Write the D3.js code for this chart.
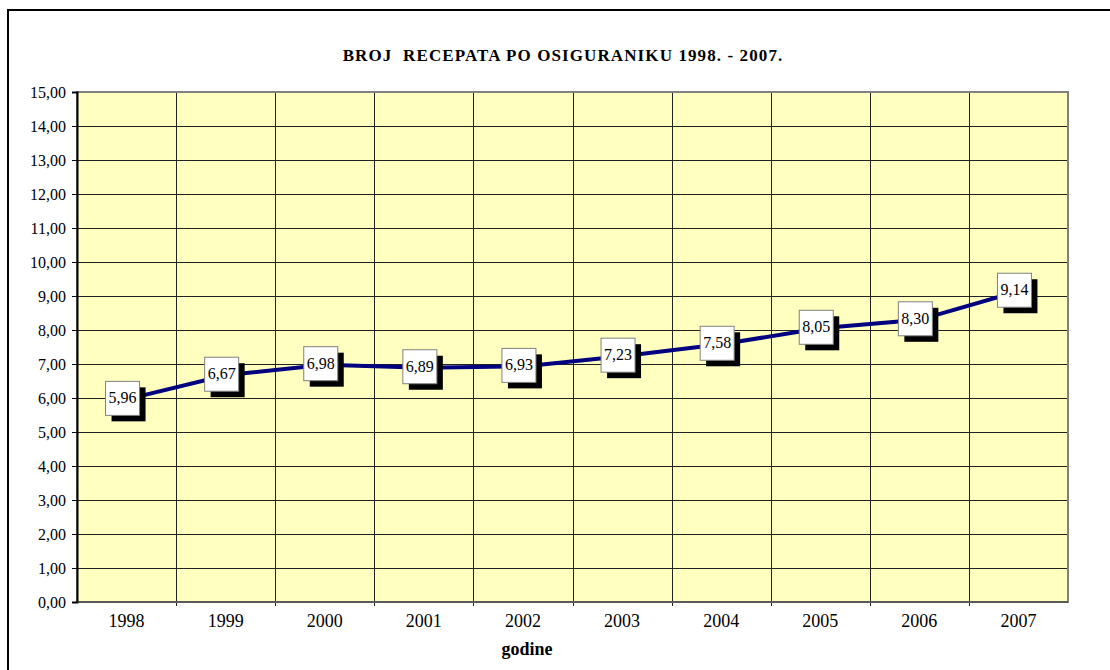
<!DOCTYPE html>
<html>
<head>
<meta charset="utf-8">
<script src="https://cdn.jsdelivr.net/npm/d3@7"></script>
<style>
  body { margin: 0; background: #fff; }
  svg { display: block; font-family: "Liberation Serif", "Times New Roman", serif; }
</style>
</head>
<body>
<svg width="1110" height="670"></svg>
<script>
// Data
var years = ["1998", "1999", "2000", "2001", "2002", "2003", "2004", "2005", "2006", "2007"];
var recepti = [5.96, 6.67, 6.98, 6.89, 6.93, 7.23, 7.58, 8.05, 8.30, 9.14];
var yTicks = [0, 1, 2, 3, 4, 5, 6, 7, 8, 9, 10, 11, 12, 13, 14, 15];

var svg = d3.select("svg"),
  width = +svg.attr("width"),
  height = +svg.attr("height");

// plot area edges
var pL = 77, pR = 1068, pT = 92, pB = 602;

var comma = function (v) { return v.toFixed(2).replace(".", ","); };

// Outer chart border (runs off the picture to the right and bottom)
svg.append("rect")
  .attr("x", 8).attr("y", 10)
  .attr("width", 1200).attr("height", 800)
  .attr("fill", "#fff")
  .attr("stroke", "#000")
  .attr("stroke-width", 2);

// Scales
var x = d3.scaleBand().domain(years).range([pL, pR]);
var y = d3.scaleLinear().domain([0, 15]).range([pB, pT]);

// Plot area
svg.append("rect")
  .attr("x", pL).attr("y", pT)
  .attr("width", pR - pL).attr("height", pB - pT)
  .attr("fill", "#FFFFC0");

// Horizontal gridlines
svg.append("g")
  .selectAll("line")
  .data(yTicks.slice(1, -1))
  .enter().append("line")
  .attr("x1", pL).attr("x2", pR)
  .attr("y1", function (d) { return Math.round(y(d)) + 0.5; })
  .attr("y2", function (d) { return Math.round(y(d)) + 0.5; })
  .attr("stroke", "#222")
  .attr("stroke-width", 1);

// Vertical gridlines at category boundaries
svg.append("g")
  .selectAll("line")
  .data(years.slice(1))
  .enter().append("line")
  .attr("x1", function (d) { return Math.round(x(d)) + 0.5; })
  .attr("x2", function (d) { return Math.round(x(d)) + 0.5; })
  .attr("y1", pT).attr("y2", pB + 4)
  .attr("stroke", "#222")
  .attr("stroke-width", 1);

// Plot border (gray)
svg.append("rect")
  .attr("x", pL).attr("y", pT)
  .attr("width", pR - pL).attr("height", pB - pT)
  .attr("fill", "none")
  .attr("stroke", "#808080")
  .attr("stroke-width", 2);

// Y axis
var yAxis = svg.append("g")
  .attr("transform", "translate(" + pL + ",0)")
  .call(d3.axisLeft(y).tickValues(yTicks).tickFormat(comma).tickSize(5).tickPadding(6));
yAxis.select(".domain").attr("stroke", "#000").attr("stroke-width", 2);
yAxis.selectAll(".tick line").attr("stroke", "#000");
yAxis.selectAll("text")
  .attr("font-family", "Liberation Serif, Times New Roman, serif")
  .attr("font-size", 16)
  .attr("fill", "#000");

// X axis line and labels
svg.append("line")
  .attr("x1", pL).attr("x2", pR)
  .attr("y1", pB).attr("y2", pB)
  .attr("stroke", "#333").attr("stroke-width", 1);

svg.append("g")
  .selectAll("text")
  .data(years)
  .enter().append("text")
  .attr("x", function (d) { return x(d) + x.bandwidth() / 2; })
  .attr("y", 627)
  .attr("text-anchor", "middle")
  .attr("font-size", 18)
  .text(function (d) { return d; });

// Line
var line = d3.line()
  .x(function (d, i) { return x(years[i]) + x.bandwidth() / 2; })
  .y(function (d) { return y(d); });

svg.append("path")
  .datum(recepti)
  .attr("fill", "none")
  .attr("stroke", "#000080")
  .attr("stroke-width", 4)
  .attr("d", line);

// Data labels with shadow
var lab = svg.append("g")
  .selectAll("g")
  .data(recepti)
  .enter().append("g")
  .attr("transform", function (d, i) {
    return "translate(" + (x(years[i]) + x.bandwidth() / 2 - 4) + "," + (y(d) - 1) + ")";
  });

lab.append("rect")
  .attr("x", -17 + 6).attr("y", -17 + 6)
  .attr("width", 34).attr("height", 34)
  .attr("fill", "#000");

lab.append("rect")
  .attr("x", -17).attr("y", -17)
  .attr("width", 34).attr("height", 34)
  .attr("fill", "#fff")
  .attr("stroke", "#808080")
  .attr("stroke-width", 1);

lab.append("text")
  .attr("text-anchor", "middle")
  .attr("y", 5)
  .attr("font-size", 16)
  .text(function (d) { return comma(d); });

// Title
svg.append("text")
  .attr("x", 563)
  .attr("y", 61)
  .attr("text-anchor", "middle")
  .attr("font-size", 17)
  .attr("font-weight", "bold")
  .attr("letter-spacing", 1.1)
  .style("white-space", "pre")
  .text("BROJ  RECEPATA PO OSIGURANIKU 1998. - 2007.");

// Axis title
svg.append("text")
  .attr("x", 527)
  .attr("y", 655)
  .attr("text-anchor", "middle")
  .attr("font-size", 18)
  .attr("font-weight", "bold")
  .text("godine");
</script>
</body>
</html>
